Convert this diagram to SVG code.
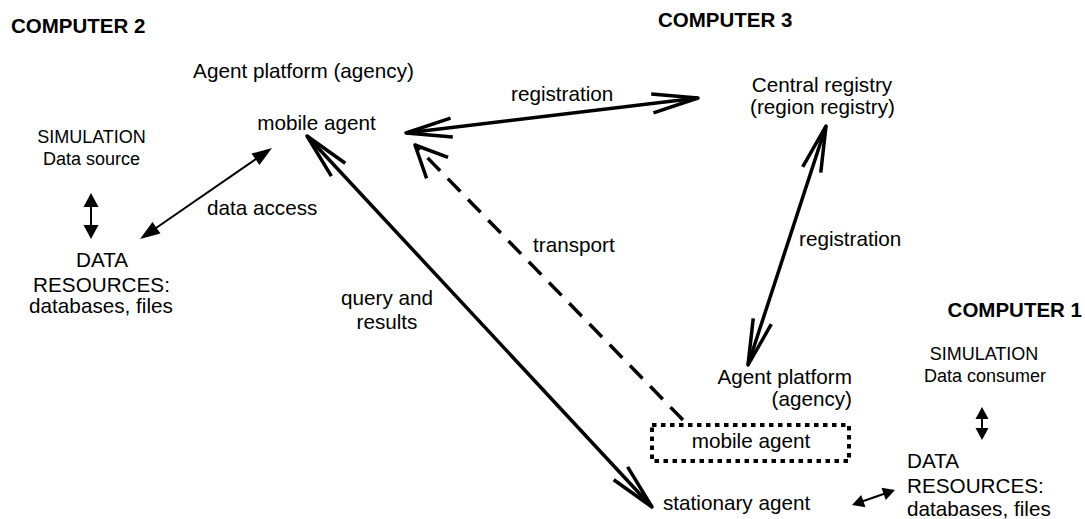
<svg xmlns="http://www.w3.org/2000/svg" width="1085" height="519" viewBox="0 0 1085 519">
<style>
text{font-family:"Liberation Sans",Arial,sans-serif;fill:#000}
.t{font-size:20.7px}
.s{font-size:18px}
.h{font-size:20.5px;font-weight:bold}
.m{text-anchor:middle}
.e{text-anchor:end}
.thick{stroke:#000;stroke-width:3.5;fill:none}
.thin{stroke:#000;stroke-width:2;fill:none}
</style>
<defs>
<marker id="open" markerUnits="userSpaceOnUse" orient="auto-start-reverse" overflow="visible" refX="0" refY="0" markerWidth="1" markerHeight="1">
<path d="M-46,-9.5 L0,0 L-46,9.5" fill="none" stroke="#000" stroke-width="3.5" stroke-linejoin="round"/>
</marker>
<marker id="openw" markerUnits="userSpaceOnUse" orient="auto-start-reverse" overflow="visible" refX="0" refY="0" markerWidth="1" markerHeight="1">
<path d="M-32,-15 L0,0 L-32,15" fill="none" stroke="#000" stroke-width="3.5" stroke-linejoin="round"/>
</marker>
<marker id="fbig" markerUnits="userSpaceOnUse" orient="auto-start-reverse" overflow="visible" refX="0" refY="0" markerWidth="1" markerHeight="1">
<path d="M-12,-7 L8,0 L-12,7 z" fill="#000"/>
</marker>
<marker id="fmid" markerUnits="userSpaceOnUse" orient="auto-start-reverse" overflow="visible" refX="0" refY="0" markerWidth="1" markerHeight="1">
<path d="M-7,-7.5 L7,0 L-7,7.5 z" fill="#000"/>
</marker>
<marker id="fsm" markerUnits="userSpaceOnUse" orient="auto-start-reverse" overflow="visible" refX="0" refY="0" markerWidth="1" markerHeight="1">
<path d="M-6,-6.5 L6,0 L-6,6.5 z" fill="#000"/>
</marker>
</defs>

<g id="connectors">
<line id="reg-top" class="thick" x1="406" y1="133" x2="698" y2="98" marker-start="url(#open)" marker-end="url(#open)"/>
<line id="transport" class="thick" x1="683" y1="420" x2="415" y2="145" stroke-width="4" stroke-dasharray="18 11" marker-end="url(#openw)"/>
<line id="query" class="thick" stroke-width="2.7" x1="307" y1="136" x2="652" y2="507" marker-start="url(#open)" marker-end="url(#open)"/>
<line id="reg-vert" class="thick" x1="826" y1="126" x2="748" y2="365" marker-start="url(#open)" marker-end="url(#open)"/>
<line id="data-access" class="thin" x1="146.6" y1="234.5" x2="265.4" y2="152.5" marker-start="url(#fbig)" marker-end="url(#fbig)"/>
<line id="c2-sim-data" class="thin" stroke-width="2.5" x1="91" y1="200" x2="91" y2="232" marker-start="url(#fmid)" marker-end="url(#fmid)"/>
<line id="c1-sim-data" class="thin" x1="982" y1="413" x2="982" y2="434" marker-start="url(#fsm)" marker-end="url(#fsm)"/>
<line id="stat-data" class="thin" x1="857.7" y1="503" x2="889.3" y2="492" marker-start="url(#fsm)" marker-end="url(#fsm)"/>
<text class="t" x="207" y="215">data access</text>
<text class="t" x="511" y="101">registration</text>
<text class="t" x="533" y="252">transport</text>
<text class="t" x="799" y="246">registration</text>
<text class="t m" x="387" y="305">query and</text>
<text class="t m" x="387" y="329">results</text>
</g>

<g id="computer2">
<text class="h" x="11" y="33">COMPUTER 2</text>
</g>
<g id="computer3">
<text class="h" x="658" y="27">COMPUTER 3</text>
</g>
<g id="computer1">
<text class="h e" x="1082" y="317">COMPUTER 1</text>
</g>

<g id="agency2">
<text class="t m" x="303.5" y="78">Agent platform (agency)</text>
</g>
<g id="mobile-agent2">
<text class="t m" x="316.5" y="130">mobile agent</text>
</g>
<g id="simulation-source">
<text class="s m" x="91.5" y="143">SIMULATION</text>
<text class="s m" x="91.5" y="165">Data source</text>
</g>
<g id="data-resources2">
<text class="t m" x="102" y="267">DATA</text>
<text class="t m" x="101.5" y="291.5">RESOURCES:</text>
<text class="t m" x="101" y="313">databases, files</text>
</g>
<g id="central-registry">
<text class="t m" x="822" y="92">Central registry</text>
<text class="t m" x="822.5" y="114">(region registry)</text>
</g>
<g id="agency1">
<text class="t e" x="852" y="384">Agent platform</text>
<text class="t e" x="852" y="406">(agency)</text>
</g>
<g id="mobile-agent1">
<rect x="652" y="425" width="197" height="36" fill="none" stroke="#000" stroke-width="4" stroke-dasharray="4.5 4.5"/>
<text class="t m" x="751" y="448">mobile agent</text>
</g>
<g id="stationary-agent">
<text class="t" x="663" y="510">stationary agent</text>
</g>
<g id="simulation-consumer">
<text class="s m" x="984" y="360">SIMULATION</text>
<text class="s m" x="985" y="382">Data consumer</text>
</g>
<g id="data-resources1">
<text class="t" x="907" y="468">DATA</text>
<text class="t" x="907" y="493">RESOURCES:</text>
<text class="t" x="907" y="516">databases, files</text>
</g>
</svg>
